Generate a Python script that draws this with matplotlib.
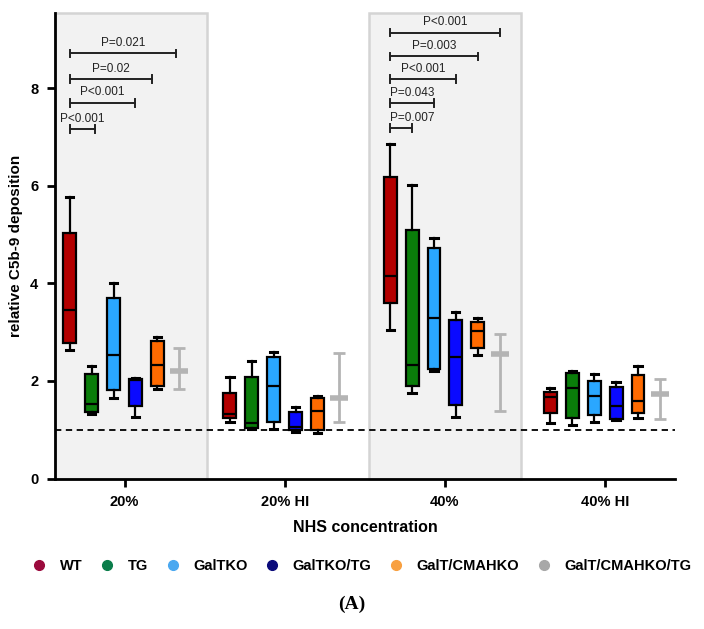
import matplotlib
matplotlib.use('Agg')
import matplotlib.pyplot as plt
from matplotlib.patches import Rectangle
from matplotlib.lines import Line2D

plt.rcParams['font.family'] = ['Liberation Sans', 'DejaVu Sans']

# Categories and series
groups = ['20%', '20% HI', '40%', '40% HI']
series = ['WT', 'TG', 'GalTKO', 'GalTKO/TG', 'GalT/CMAHKO', 'GalT/CMAHKO/TG']
box_colors = ['#b30000', '#0a7d0a', '#2aa7ff', '#0a0aff', '#ff6a00']
legend_colors = ['#9b0a3d', '#0a7d4a', '#4aa8f0', '#0a0a7a', '#f8a040', '#a8a8a8']
gray_color = '#b4b4b4'

# Box stats per series, one tuple per group: (whislo, q1, med, q3, whishi)
wt = [(2.63, 2.78, 3.46, 5.03, 5.76), (1.15, 1.23, 1.32, 1.76, 2.07),
      (3.05, 3.59, 4.15, 6.18, 6.85), (1.13, 1.35, 1.68, 1.78, 1.85)]
tg = [(1.33, 1.36, 1.52, 2.14, 2.31), (1.01, 1.04, 1.14, 2.09, 2.41),
      (1.76, 1.90, 2.33, 5.10, 6.01), (1.10, 1.25, 1.85, 2.16, 2.21)]
galtko = [(1.65, 1.82, 2.53, 3.69, 4.00), (1.01, 1.15, 1.90, 2.50, 2.59),
          (2.21, 2.24, 3.29, 4.73, 4.92), (1.16, 1.30, 1.70, 2.00, 2.14)]
galtko_tg = [(1.26, 1.48, 2.02, 2.03, 2.05), (0.96, 0.99, 1.05, 1.37, 1.47),
             (1.26, 1.50, 2.48, 3.24, 3.41), (1.20, 1.21, 1.49, 1.88, 1.97)]
galt_cmahko = [(1.84, 1.90, 2.33, 2.82, 2.91), (0.93, 0.99, 1.39, 1.66, 1.69),
               (2.54, 2.67, 3.03, 3.21, 3.28), (1.25, 1.34, 1.59, 2.12, 2.31)]
box_series = [wt, tg, galtko, galtko_tg, galt_cmahko]

# GalT/CMAHKO/TG shown as mean with range
gray_low = [1.84, 1.16, 1.39, 1.21]
gray_mean = [2.20, 1.66, 2.56, 1.73]
gray_high = [2.68, 2.58, 2.96, 2.04]

# significance brackets: group, end (series index), level, label
br_group = [0, 0, 0, 0, 2, 2, 2, 2, 2]
br_end = [1.15, 3.0, 3.77, 4.85, 1, 2, 3, 4, 5]
br_y = [7.16, 7.70, 8.18, 8.71, 7.18, 7.69, 8.18, 8.65, 9.14]
br_text = ['P<0.001', 'P<0.001', 'P=0.02', 'P=0.021',
           'P=0.007', 'P=0.043', 'P<0.001', 'P=0.003', 'P<0.001']

step = 0.1367
bw = 0.081
ymax = 9.54

fig = plt.figure(figsize=(7.04, 6.29), dpi=100)
ax = fig.add_axes([55 / 704, 1 - 478.5 / 629, 620 / 704, 465.5 / 629])
ax.set_xlim(-0.434, 3.436)
ax.set_ylim(0, ymax)

# shaded panels for 20% and 40%
for x0, x1 in [(-0.434, 0.513), (1.529, 2.474)]:
    ax.add_patch(Rectangle((x0, 0), x1 - x0, ymax, facecolor='#f2f2f2',
                           edgecolor='#d4d4d4', lw=1.8, zorder=0, clip_on=False))

ax.axhline(1, color='black', ls=(0, (3.5, 2.5)), lw=1.3, zorder=1)

for i, (data, col) in enumerate(zip(box_series, box_colors)):
    stats = [dict(whislo=d[0], q1=d[1], med=d[2], q3=d[3], whishi=d[4], fliers=[])
             for d in data]
    pos = [g + (i - 2.5) * step for g in range(len(groups))]
    ax.bxp(stats, positions=pos, widths=bw, patch_artist=True, showfliers=False,
           manage_ticks=False, capwidths=0.045,
           boxprops=dict(facecolor=col, edgecolor='black', linewidth=1.6),
           medianprops=dict(color='black', linewidth=1.6),
           whiskerprops=dict(color='black', linewidth=1.6),
           capprops=dict(color='black', linewidth=2.2), zorder=3)

gpos = [g + 2.5 * step for g in range(len(groups))]
ax.errorbar(gpos, gray_mean,
            yerr=[[m - l for m, l in zip(gray_mean, gray_low)],
                  [h - m for m, h in zip(gray_mean, gray_high)]],
            fmt='none', ecolor=gray_color, elinewidth=2, capsize=4, capthick=2, zorder=3)
ax.scatter(gpos, gray_mean, marker='_', s=150, linewidths=4, color=gray_color, zorder=4)

for g, e, y, t in zip(br_group, br_end, br_y, br_text):
    xa = g - 2.5 * step
    xb = g + (e - 2.5) * step
    ax.plot([xa, xb], [y, y], color='#222222', lw=1.4, zorder=3)
    for xx in (xa, xb):
        ax.plot([xx, xx], [y - 0.08, y + 0.08], color='#222222', lw=1.4, zorder=3)
    if xb - xa < 0.2 and g == 2:
        ax.text(xa, y + 0.09, t, ha='left', va='bottom', fontsize=8.5, color='#222222')
    else:
        ax.text((xa + xb) / 2, y + 0.09, t, ha='center', va='bottom', fontsize=8.5,
                color='#222222')

ax.spines['top'].set_visible(False)
ax.spines['right'].set_visible(False)
ax.spines['left'].set_linewidth(2)
ax.spines['bottom'].set_linewidth(2)
ax.set_yticks([0, 2, 4, 6, 8])
ax.set_xticks(range(len(groups)))
ax.set_xticklabels(groups)
ax.tick_params(direction='out', length=6, width=2, labelsize=10.5, pad=6)
for lab in ax.get_xticklabels() + ax.get_yticklabels():
    lab.set_fontweight('bold')
ax.set_xlabel('NHS concentration', fontsize=11.5, fontweight='bold', labelpad=8)
ax.set_ylabel('relative C5b-9 deposition', fontsize=11, fontweight='bold', labelpad=5)

handles = [Line2D([], [], marker='o', ls='', color=c, markersize=7) for c in legend_colors]
fig.legend(handles, series, loc='center', bbox_to_anchor=(0.515, 0.1), ncol=6,
           frameon=False, prop=dict(weight='bold', size=10.5), handletextpad=1.0,
           columnspacing=1.3, handlelength=0.8)

fig.text(0.5, 1 - 604 / 629, '(A)', ha='center', va='center', fontsize=14,
         fontweight='bold', family='Liberation Serif')

fig.savefig('out.png', dpi=100)
